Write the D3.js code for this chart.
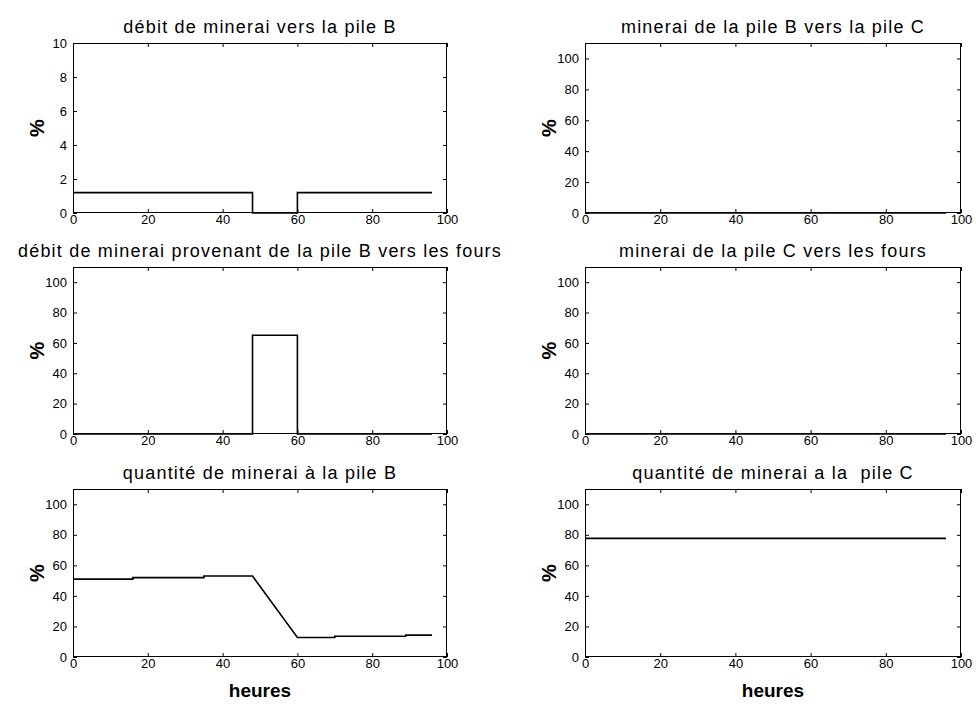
<!DOCTYPE html>
<html>
<head>
<meta charset="utf-8">
<script src="https://cdn.jsdelivr.net/npm/d3@7"></script>
<style>
  html, body { margin: 0; padding: 0; background: #fff; }
  svg { display: block; }
  .tick text { font-family: "Liberation Sans", Arial, sans-serif; font-size: 13px; fill: #000; }
  .tick line { stroke: #000; }
</style>
</head>
<body>
<svg id="fig" width="976" height="704"></svg>
<script>
// Simulation results, hours 0–96

const hourTicks = [0, 20, 40, 60, 80, 100];
const pctTicksSmall = [0, 2, 4, 6, 8, 10];
const pctTicks = [0, 20, 40, 60, 80, 100];

const titles = [
  "débit de minerai vers la pile B",
  "minerai de la pile B vers la pile C",
  "débit de minerai provenant de la pile B vers les fours",
  "minerai de la pile C vers les fours",
  "quantité de minerai à la pile B",
  "quantité de minerai a la  pile C"
];

// ore flow into pile B
const flowInB_t = [0, 48, 48, 60, 60, 96];
const flowInB_v = [1.2, 1.2, 0, 0, 1.2, 1.2];

// ore from pile B to pile C
const flowBC_t = [0, 96];
const flowBC_v = [0, 0];

// ore from pile B to the furnaces
const flowBF_t = [0, 48, 48, 60, 60, 96];
const flowBF_v = [0, 0, 65, 65, 0, 0];

// ore from pile C to the furnaces
const flowCF_t = [0, 96];
const flowCF_v = [0, 0];

// stock held at pile B
const stockB_t = [0, 16, 16, 35, 35, 48, 60, 70, 70, 89, 89, 96];
const stockB_v = [51, 51, 52, 52, 53, 53, 12.8, 12.8, 13.6, 13.6, 14.3, 14.3];

// stock held at pile C
const stockC_t = [0, 96];
const stockC_v = [77.7, 77.7];

const panels = [
  { t: flowInB_t, v: flowInB_v, yMax: 10,  yTicks: pctTicksSmall },
  { t: flowBC_t,  v: flowBC_v,  yMax: 110, yTicks: pctTicks },
  { t: flowBF_t,  v: flowBF_v,  yMax: 110, yTicks: pctTicks },
  { t: flowCF_t,  v: flowCF_v,  yMax: 110, yTicks: pctTicks },
  { t: stockB_t,  v: stockB_v,  yMax: 110, yTicks: pctTicks },
  { t: stockC_t,  v: stockC_v,  yMax: 110, yTicks: pctTicks }
];

// subplot grid (3 rows x 2 columns)
const cols = [{ x: 73, w: 374 }, { x: 585, w: 376 }];
const rows = [{ y: 43, h: 170 }, { y: 267, h: 167 }, { y: 489, h: 168 }];

const svg = d3.select("#fig");
const font = '"Liberation Sans", Arial, Helvetica, sans-serif';

panels.forEach((p, i) => {
  const c = cols[i % 2], r = rows[Math.floor(i / 2)];
  const g = svg.append("g").attr("transform", `translate(${c.x},${r.y})`);
  const x = d3.scaleLinear().domain([0, 100]).range([0, c.w]);
  const y = d3.scaleLinear().domain([0, p.yMax]).range([r.h, 0]);

  // data line
  const pts = p.t.map((t, k) => [t, p.v[k]]);
  g.append("path")
    .datum(pts)
    .attr("fill", "none")
    .attr("stroke", "#000")
    .attr("stroke-width", 1.6)
    .attr("d", d3.line().x(d => x(d[0])).y(d => y(d[1])));

  // inward ticks on all four sides, labels on left and bottom
  const tick = 4;
  g.append("g").attr("transform", `translate(0,${r.h})`)
    .call(d3.axisBottom(x).tickValues(hourTicks).tickSizeInner(-tick).tickSizeOuter(0).tickPadding(2))
    .call(a => a.select(".domain").remove());
  g.append("g")
    .call(d3.axisTop(x).tickValues(hourTicks).tickSizeInner(-tick).tickSizeOuter(0).tickFormat(""))
    .call(a => a.select(".domain").remove());
  g.append("g")
    .call(d3.axisLeft(y).tickValues(p.yTicks).tickSizeInner(-tick).tickSizeOuter(0).tickPadding(6))
    .call(a => a.select(".domain").remove());
  g.append("g").attr("transform", `translate(${c.w},0)`)
    .call(d3.axisRight(y).tickValues(p.yTicks).tickSizeInner(-tick).tickSizeOuter(0).tickFormat(""))
    .call(a => a.select(".domain").remove());

  // axes box
  g.append("rect")
    .attr("x", 0.5).attr("y", 0.5)
    .attr("width", c.w - 1).attr("height", r.h - 1)
    .attr("fill", "none").attr("stroke", "#000").attr("stroke-width", 1);

  // title
  g.append("text")
    .attr("x", c.w / 2).attr("y", -10)
    .attr("text-anchor", "middle")
    .attr("font-family", font).attr("font-size", 18)
    .attr("letter-spacing", 1.2)
    .style("white-space", "pre")
    .text(titles[i]);

  // y label
  g.append("text")
    .attr("transform", `translate(-29,${r.h / 2}) rotate(-90)`)
    .attr("text-anchor", "middle")
    .attr("font-family", font).attr("font-size", 20).attr("font-weight", "bold")
    .text("%");

  // x label on bottom row
  if (Math.floor(i / 2) === 2) {
    g.append("text")
      .attr("x", c.w / 2).attr("y", r.h + 40)
      .attr("text-anchor", "middle")
      .attr("font-family", font).attr("font-size", 19).attr("font-weight", "bold")
      .text("heures");
  }
});
</script>
</body>
</html>
